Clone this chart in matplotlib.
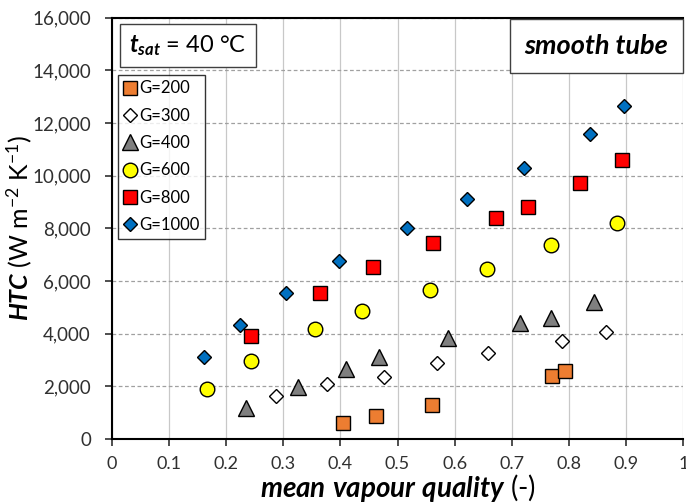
import matplotlib.pyplot as plt
import matplotlib.ticker as mticker

plt.rcParams['font.family'] = ['Lato', 'DejaVu Sans']
plt.rcParams['mathtext.fontset'] = 'custom'
plt.rcParams['mathtext.rm'] = 'Lato'
plt.rcParams['mathtext.it'] = 'Lato:italic'
plt.rcParams['mathtext.bf'] = 'Lato:bold'
plt.rcParams['mathtext.bfit'] = 'Lato:bold:italic'

# mean vapour quality and HTC for each mass flux G
x_g200 = [0.405, 0.462, 0.561, 0.770, 0.793]
htc_g200 = [610, 860, 1280, 2410, 2570]

x_g300 = [0.287, 0.377, 0.476, 0.569, 0.658, 0.787, 0.864]
htc_g300 = [1650, 2090, 2340, 2880, 3260, 3730, 4050]

x_g400 = [0.234, 0.326, 0.410, 0.468, 0.589, 0.714, 0.769, 0.844]
htc_g400 = [1200, 1990, 2680, 3130, 3850, 4390, 4610, 5190]

x_g600 = [0.166, 0.243, 0.355, 0.437, 0.556, 0.657, 0.769, 0.884]
htc_g600 = [1900, 2950, 4190, 4860, 5670, 6440, 7370, 8200]

x_g800 = [0.243, 0.364, 0.457, 0.562, 0.673, 0.729, 0.820, 0.893]
htc_g800 = [3930, 5560, 6530, 7440, 8410, 8820, 9720, 10600]

x_g1000 = [0.161, 0.225, 0.304, 0.397, 0.516, 0.622, 0.721, 0.836, 0.896]
htc_g1000 = [3120, 4350, 5560, 6780, 8030, 9120, 10280, 11600, 12650]

fig = plt.figure(figsize=(6.86, 5.03), dpi=100)
ax = fig.add_axes([0.163, 0.127, 0.833, 0.838])

kw = dict(linestyle='none', markeredgecolor='black', markeredgewidth=1.0, zorder=3)
ax.plot(x_g200, htc_g200, marker='s', markersize=10, markerfacecolor='#ED7D31', label='G=200', **kw)
ax.plot(x_g300, htc_g300, marker='D', markersize=7.4, markerfacecolor='white', label='G=300', **kw)
ax.plot(x_g400, htc_g400, marker='^', markersize=11, markerfacecolor='#7F7F7F', label='G=400', **kw)
ax.plot(x_g600, htc_g600, marker='o', markersize=10.5, markerfacecolor='#FFFF00', label='G=600', **kw)
ax.plot(x_g800, htc_g800, marker='s', markersize=10, markerfacecolor='#FF0000', label='G=800', **kw)
ax.plot(x_g1000, htc_g1000, marker='D', markersize=7.4, markerfacecolor='#0070C0', label='G=1000', **kw)

ax.set_xlim(0, 1)
ax.set_ylim(0, 16000)
ax.set_xticks([i / 10 for i in range(11)])
ax.xaxis.set_major_formatter(mticker.FuncFormatter(lambda v, p: '0' if v == 0 else ('1' if v == 1 else f'{v:.1f}')))
ax.set_yticks(range(0, 16001, 2000))
ax.yaxis.set_major_formatter(mticker.StrMethodFormatter('{x:,.0f}'))
ax.tick_params(labelsize=13, colors='#303030', length=5, width=1.2)
ax.tick_params(axis='x', pad=7)
ax.tick_params(axis='y', pad=10, labelsize=13.5)

ax.grid(axis='x', color='#C8C8C8', linestyle='-', linewidth=0.9)
ax.grid(axis='y', color='#A0A0A0', linestyle=(0, (3, 2)), linewidth=0.9)
ax.set_axisbelow(True)

for s in ['left', 'bottom', 'top']:
    ax.spines[s].set_linewidth(1.5)
    ax.spines[s].set_color('black')
ax.spines['right'].set_visible(False)

ax.set_xlabel(r'$\mathbfit{mean\ vapour\ quality}$ (-)', fontsize=20, labelpad=0)
ax.set_ylabel(r'$\mathbfit{HTC}$ (W m$^{-2}$ K$^{-1}$)', fontsize=18)
ax.yaxis.set_label_coords(-0.137, 0.5)

ax.text(0.03, 0.905, r'$\mathbfit{t}_{\mathbfit{sat}}$ = 40 °C', transform=ax.transAxes,
        fontsize=17, ha='left', va='bottom',
        bbox=dict(boxstyle='square,pad=0.4', facecolor='white', edgecolor='#404040', linewidth=1))
ax.text(0.974, 0.905, 'smooth tube', transform=ax.transAxes, fontsize=19.5,
        fontweight='bold', fontstyle='italic', ha='right', va='bottom',
        bbox=dict(boxstyle='square,pad=0.55', facecolor='white', edgecolor='#404040', linewidth=1))

leg = ax.legend(loc='upper left', bbox_to_anchor=(0.01, 0.865), fontsize=12, frameon=True,
                fancybox=False, edgecolor='black', handlelength=0.8, handletextpad=0.15,
                borderpad=0.35, labelspacing=0.68, borderaxespad=0)
leg.get_frame().set_linewidth(1)

fig.savefig('out.png', dpi=100)
